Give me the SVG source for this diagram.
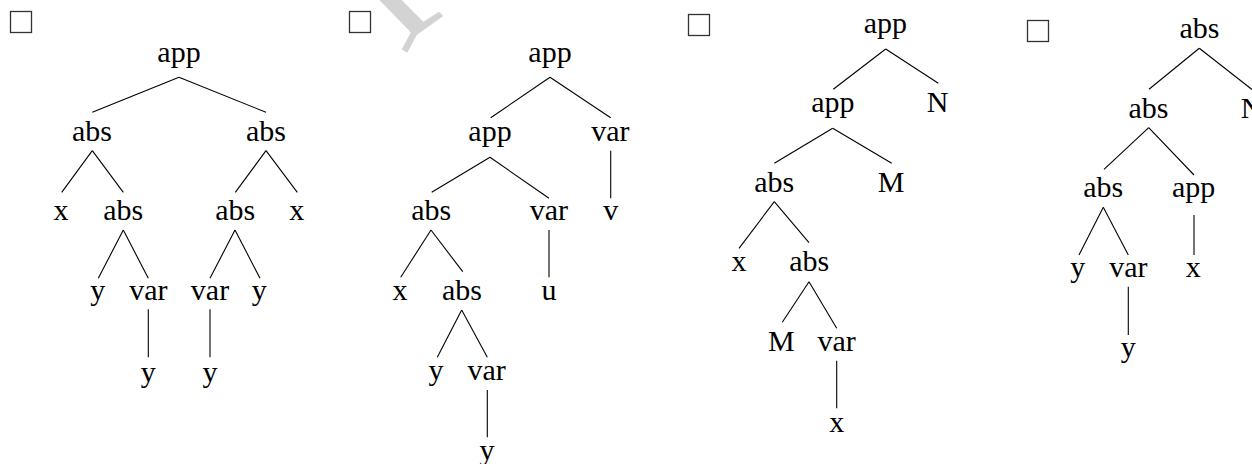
<svg xmlns="http://www.w3.org/2000/svg" width="1252" height="464" viewBox="0 0 1252 464">
<style>
text{font-family:"Liberation Serif","Times New Roman",serif;font-size:30px;fill:#000;text-anchor:middle}
.e line{stroke:#000;stroke-width:1.1}
.cb{fill:#fff;stroke:#333;stroke-width:1.3}
</style>
<rect width="1252" height="464" fill="#fff"/>
<polygon id="watermark" points="379.3,0 401.7,0 423.3,21.7 439,11.7 443.3,16 416.7,35 407.3,52.7 401.7,49.3 410.7,32.7 409.3,30.7" fill="#d3d3d3"/>
<g id="checkboxes">
<rect class="cb" x="10.5" y="11.5" width="21" height="21"/>
<rect class="cb" x="349.5" y="11.5" width="21" height="21"/>
<rect class="cb" x="688.5" y="14.5" width="21" height="21"/>
<rect class="cb" x="1027.5" y="20.5" width="21" height="21"/>
</g>
<g id="connectors" class="e">
<line x1="179" y1="77.3" x2="92.3" y2="112.3"/><line x1="179" y1="77.3" x2="266" y2="112.3"/>
<line x1="92.3" y1="150.7" x2="61.7" y2="192.3"/><line x1="92.3" y1="150.7" x2="123.3" y2="192.3"/>
<line x1="266" y1="150.7" x2="235.3" y2="192.3"/><line x1="266" y1="150.7" x2="297.3" y2="192.3"/>
<line x1="123.3" y1="230" x2="98.3" y2="278.3"/><line x1="123.3" y1="230" x2="148.3" y2="278.3"/>
<line x1="235" y1="230" x2="210" y2="278.3"/><line x1="235" y1="230" x2="260" y2="278.3"/>
<line x1="148.3" y1="309.3" x2="148.3" y2="357.3"/><line x1="210" y1="309.3" x2="210" y2="357.3"/>

<line x1="550" y1="77.3" x2="490.7" y2="117.7"/><line x1="550" y1="77.3" x2="610.7" y2="117.7"/>
<line x1="490" y1="157.3" x2="431.7" y2="192.3"/><line x1="490" y1="157.3" x2="549" y2="198.3"/>
<line x1="610.7" y1="150.7" x2="610.7" y2="198.3"/>
<line x1="431" y1="230" x2="400.7" y2="277.3"/><line x1="431" y1="230" x2="462.7" y2="271.7"/>
<line x1="549" y1="230" x2="549" y2="277.3"/>
<line x1="461.7" y1="310" x2="437.3" y2="357.3"/><line x1="461.7" y1="310" x2="487.3" y2="357.3"/>
<line x1="487.3" y1="390" x2="487.3" y2="437.3"/>

<line x1="885.7" y1="49" x2="833.3" y2="89.3"/><line x1="885.7" y1="49" x2="938.3" y2="83.3"/>
<line x1="832.7" y1="128.3" x2="774.3" y2="163.3"/><line x1="832.7" y1="128.3" x2="891.7" y2="163.3"/>
<line x1="774.3" y1="201.7" x2="739" y2="248.3"/><line x1="774.3" y1="201.7" x2="809" y2="242.7"/>
<line x1="809" y1="281.7" x2="782.3" y2="322.3"/><line x1="809" y1="281.7" x2="836.7" y2="328.3"/>
<line x1="836.7" y1="360.7" x2="836.7" y2="408.3"/>

<line x1="1199.3" y1="48.3" x2="1149" y2="89.3"/><line x1="1199.3" y1="48.3" x2="1252" y2="89.5"/>
<line x1="1148.7" y1="127.7" x2="1104" y2="169.3"/><line x1="1148.7" y1="127.7" x2="1194" y2="175"/>
<line x1="1103.3" y1="207.3" x2="1079" y2="255"/><line x1="1103.3" y1="207.3" x2="1128.3" y2="255"/>
<line x1="1194" y1="215" x2="1194" y2="255"/>
<line x1="1128.3" y1="286.7" x2="1128.3" y2="335"/>
</g>
<g id="t1">
<g id="t1-app"><text x="179" y="61.7">app</text></g>
<g id="t1-abs1"><text x="92" y="140.7">abs</text></g>
<g id="t1-abs2"><text x="266" y="140.7">abs</text></g>
<g id="t1-x1"><text x="61" y="220">x</text></g>
<g id="t1-abs3"><text x="123.3" y="220">abs</text></g>
<g id="t1-abs4"><text x="235.3" y="220">abs</text></g>
<g id="t1-x2"><text x="296.7" y="220">x</text></g>
<g id="t1-y1"><text x="97.7" y="300">y</text></g>
<g id="t1-var1"><text x="148.3" y="300">var</text></g>
<g id="t1-var2"><text x="210" y="300">var</text></g>
<g id="t1-y2"><text x="259.3" y="300">y</text></g>
<g id="t1-y3"><text x="148.3" y="381.7">y</text></g>
<g id="t1-y4"><text x="210" y="381.7">y</text></g>
</g>
<g id="t2">
<g id="t2-app1"><text x="550" y="61.7">app</text></g>
<g id="t2-app2"><text x="490" y="140.7">app</text></g>
<g id="t2-var1"><text x="610.3" y="140.7">var</text></g>
<g id="t2-abs1"><text x="431.2" y="220">abs</text></g>
<g id="t2-var2"><text x="548.8" y="220">var</text></g>
<g id="t2-v"><text x="610.7" y="220">v</text></g>
<g id="t2-x"><text x="400" y="300">x</text></g>
<g id="t2-abs2"><text x="462" y="300">abs</text></g>
<g id="t2-u"><text x="549" y="300">u</text></g>
<g id="t2-y1"><text x="436" y="380">y</text></g>
<g id="t2-var3"><text x="486.7" y="380">var</text></g>
<g id="t2-y2"><text x="487" y="460">y</text></g>
</g>
<g id="t3">
<g id="t3-app1"><text x="885.3" y="33.3">app</text></g>
<g id="t3-app2"><text x="832.8" y="111.7">app</text></g>
<g id="t3-N"><text x="937.5" y="111.7">N</text></g>
<g id="t3-abs1"><text x="774.2" y="191.7">abs</text></g>
<g id="t3-M1"><text x="891" y="191.7">M</text></g>
<g id="t3-x1"><text x="739" y="270.7">x</text></g>
<g id="t3-abs2"><text x="809.2" y="270.7">abs</text></g>
<g id="t3-M2"><text x="781.3" y="350.7">M</text></g>
<g id="t3-var"><text x="836.7" y="350.7">var</text></g>
<g id="t3-x2"><text x="836.7" y="431.7">x</text></g>
</g>
<g id="t4">
<g id="t4-abs1"><text x="1199.5" y="38.3">abs</text></g>
<g id="t4-abs2"><text x="1148.5" y="118.3">abs</text></g>
<g id="t4-N"><text x="1251.5" y="118.3">N</text></g>
<g id="t4-abs3"><text x="1103.3" y="196.7">abs</text></g>
<g id="t4-app"><text x="1193.7" y="196.7">app</text></g>
<g id="t4-y1"><text x="1077.7" y="276.7">y</text></g>
<g id="t4-var"><text x="1128.3" y="276.7">var</text></g>
<g id="t4-x"><text x="1193.3" y="276.7">x</text></g>
<g id="t4-y2"><text x="1128.3" y="356.7">y</text></g>
</g>
</svg>
